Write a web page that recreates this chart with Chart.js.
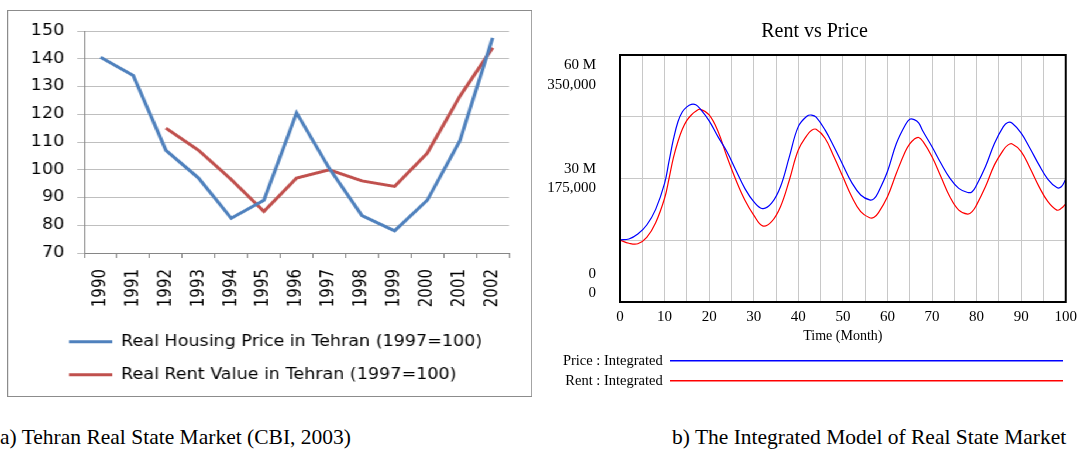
<!DOCTYPE html>
<html>
<head>
<meta charset="utf-8">
<script src="https://cdn.jsdelivr.net/npm/chart.js@4.4.1/dist/chart.umd.min.js"></script>
<style>
    html, body { margin: 0; padding: 0; background: #fff; }
    body { width: 1083px; height: 454px; position: relative; overflow: hidden; }
    /* the Excel panel in the source is stretched sideways a little */
    #leftBox { position: absolute; left: 7px; top: 10px; width: 449px; height: 387px; box-sizing: border-box;
               border: 1px solid #8c8c8c; transform: scaleX(1.17); transform-origin: 0 0; }
    #rightBox { position: absolute; left: 546px; top: 0; width: 537px; height: 400px; }
    .caption { position: absolute; top: 425px; font-family: "Liberation Serif", serif; font-size: 21.5px;
               color: #000; white-space: nowrap; line-height: 24px; }
</style>
</head>
<body>
<div id="leftBox"><canvas id="cbiChart"></canvas></div>
<div id="rightBox"><canvas id="modelChart"></canvas></div>
<div class="caption" style="left:0;">a) Tehran Real State Market (CBI, 2003)</div>
<div class="caption" style="left:672px;">b) The Integrated Model of Real State Market</div>

<script>
// ---------------------------------------------------------------------
// (a) CBI series, 1997 = 100
// ---------------------------------------------------------------------
const years = ["1990", "1991", "1992", "1993", "1994", "1995", "1996",
               "1997", "1998", "1999", "2000", "2001", "2002"];
const housingPrice = [140.5, 134, 107, 97, 82.5, 89, 120.5, 100.5, 83.5, 78, 89, 110.5, 147.5];
const rentValue = [null, null, 115, 107, 96.5, 85, 97, 100, 96, 94, 106, 126.5, 144];
const indexMin = 70, indexMax = 150, indexStep = 10;

// ---------------------------------------------------------------------
// (b) Integrated model run (price in millions, rent in rials)
// ---------------------------------------------------------------------
const months = [0, 2, 4, 6, 8, 10, 11, 12, 13, 14, 15, 16, 17, 18, 20, 22, 24, 26, 28, 30,
                32, 34, 36, 38, 40, 42, 43, 44, 46, 48, 50, 52, 54, 56, 57, 58, 60, 62, 64, 65,
                66, 67, 68, 70, 72, 74, 76, 78, 79, 80, 82, 84, 86, 87, 88, 90, 92, 94, 96, 98,
                99, 100];
const priceIntegrated = [15.1, 15.3, 16.5, 18.7, 22.5, 28.8, 34.2, 39.6, 43.8, 46.2, 47.4, 48.0, 47.9, 46.9, 44.0, 40.1, 36.5, 32.0, 27.6, 24.4,
                         22.7, 24.0, 28.0, 35.3, 42.6, 45.2, 45.4, 44.9, 41.8, 37.7, 33.3, 29.0, 26.0, 24.8, 25.1, 26.8, 31.7, 38.5, 43.0, 44.4,
                         44.3, 43.5, 41.4, 37.7, 33.7, 30.1, 27.6, 26.6, 26.8, 28.4, 32.9, 38.5, 42.6, 43.6, 43.4, 41.0, 37.3, 33.3, 29.8, 27.8,
                         28.0, 29.8];
const rentIntegrated = [87800, 83300, 82600, 91700, 112400, 147000, 175000, 204800, 227500, 245000, 257300, 265000, 270200, 273000, 265000, 241500, 205800, 172900, 144600, 123200,
                        107800, 113800, 135100, 172900, 215300, 236600, 243300, 244700, 232100, 205800, 177500, 149100, 128100, 119400, 120100, 126700, 149100, 182400, 213200, 224000,
                        230700, 233100, 227200, 205800, 177500, 149100, 130200, 124600, 128100, 137600, 163500, 194300, 215300, 222300, 224000, 213200, 189400, 163500, 142100, 130200,
                        132700, 139000];
const priceTicks = [0, 30, 60];
const priceTickLabels = ["0", "30 M", "60 M"];
const rentTicks = [0, 175000, 350000];
const rentTickLabels = ["0", "175,000", "350,000"];

const sansFont = { family: "DejaVu Sans", size: 15 };
const serif = "Liberation Serif";

// legend samples as plain filled bars (no outline)
function flatLegendLabels(chart) {
    return Chart.defaults.plugins.legend.labels.generateLabels(chart).map(function (l) {
        l.lineWidth = 0;
        return l;
    });
}

// Excel indents its legend further than the y labels; nudge the legend box after layout
const legendIndent = {
    id: "legendIndent",
    afterLayout(chart) {
        if (chart.legend) chart.legend.left = 34;
    }
};

new Chart(document.getElementById("cbiChart"), {
    type: "line",
    data: {
        labels: years,
        datasets: [
            { label: "Real Housing Price in Tehran (1997=100)", data: housingPrice,
              borderColor: "#4F81BD", backgroundColor: "#4F81BD", borderWidth: 3, pointRadius: 0, tension: 0 },
            { label: "Real Rent Value in Tehran (1997=100)", data: rentValue,
              borderColor: "#C0504D", backgroundColor: "#C0504D", borderWidth: 3, pointRadius: 0, tension: 0 }
        ]
    },
    plugins: [legendIndent],
    options: {
        responsive: true, maintainAspectRatio: false, animation: false,
        layout: { padding: { left: 14, right: 19, top: 18.5, bottom: 3.8 } },
        plugins: {
            tooltip: { enabled: false },
            legend: {
                position: "bottom", align: "start",
                labels: { boxWidth: 37, boxHeight: 3, padding: 18, color: "#000", font: sansFont,
                          generateLabels: flatLegendLabels }
            }
        },
        scales: {
            x: {
                offset: true,
                grid: { offset: true, drawOnChartArea: false, tickLength: 5, color: "#868686" },
                border: { color: "#868686" },
                ticks: { minRotation: 90, maxRotation: 90, padding: 11, color: "#000", font: sansFont },
                afterFit: function (s) { s.height = 63.2; }
            },
            y: {
                min: indexMin, max: indexMax,
                grid: { color: "#BFBFBF", tickLength: 6 },
                border: { color: "#868686" },
                ticks: { stepSize: indexStep, padding: 11, color: "#000", font: sansFont },
                afterFit: function (s) { s.width = 51; }
            }
        }
    }
});

// Vensim-style stacked axis labels + black frame round the plot
const vensimFrame = {
    id: "vensimFrame",
    afterDraw(chart) {
        const { ctx, chartArea } = chart;
        const rent = chart.scales.yRent, price = chart.scales.yPrice;
        ctx.save();
        ctx.font = "15px \"" + serif + "\"";
        ctx.fillStyle = "#000";
        ctx.textAlign = "right";
        ctx.textBaseline = "middle";
        const xRight = chartArea.left - 24;
        // labels are kept inside the plot's height, like the Vensim output
        const clamp = function (y) { return Math.min(Math.max(y, chartArea.top + 20), chartArea.bottom - 18.5); };
        rentTicks.forEach(function (v, i) {
            const yp = clamp(price.getPixelForValue(priceTicks[i]));
            const yr = clamp(rent.getPixelForValue(v));
            ctx.fillText(priceTickLabels[i], xRight, yp - 9.75);
            ctx.fillText(rentTickLabels[i], xRight, yr + 9.75);
        });
        ctx.lineWidth = 2;
        ctx.strokeStyle = "#000";
        ctx.strokeRect(chartArea.left, chartArea.top, chartArea.right - chartArea.left, chartArea.bottom - chartArea.top);
        ctx.restore();
    }
};

new Chart(document.getElementById("modelChart"), {
    type: "line",
    data: {
        datasets: [
            { label: "Price : Integrated", yAxisID: "yPrice",
              data: months.map(function (t, i) { return { x: t, y: priceIntegrated[i] }; }),
              borderColor: "#0000FF", backgroundColor: "#0000FF", borderWidth: 1.2, pointRadius: 0, tension: 0.4 },
            { label: "Rent : Integrated", yAxisID: "yRent",
              data: months.map(function (t, i) { return { x: t, y: rentIntegrated[i] }; }),
              borderColor: "#FF0000", backgroundColor: "#FF0000", borderWidth: 1.2, pointRadius: 0, tension: 0.4 }
        ]
    },
    plugins: [vensimFrame],
    options: {
        responsive: true, maintainAspectRatio: false, animation: false,
        // equal side padding keeps the title centred on the panel
        layout: { padding: { left: 14.5, right: 14.5, top: 0, bottom: 2 } },
        plugins: {
            tooltip: { enabled: false },
            title: { display: true, text: "Rent vs Price", color: "#000",
                     font: { family: serif, size: 20, weight: "normal" }, padding: { top: 20, bottom: 11 } },
            legend: {
                position: "bottom", align: "start", rtl: true,
                labels: { boxWidth: 393, boxHeight: 1.5, padding: 5.5, color: "#000",
                          font: { family: serif, size: 14.5, lineHeight: 1 }, generateLabels: flatLegendLabels }
            }
        },
        scales: {
            x: {
                type: "linear", min: 0, max: 100,
                grid: { color: "#C8C8C8", drawTicks: false },
                border: { color: "#000", width: 2 },
                ticks: { stepSize: 5, autoSkip: false, maxRotation: 0, padding: 6, color: "#000",
                         font: { family: serif, size: 15 },
                         callback: function (v) { return v % 10 === 0 ? v : ""; } },
                title: { display: true, text: "Time (Month)", color: "#000",
                         font: { family: serif, size: 14 }, padding: { top: 0, bottom: 3.6 } },
                afterFit: function (s) { s.height = 46; }
            },
            yRent: {
                position: "left", min: 0, max: 350000,
                grid: { color: "#C8C8C8", drawTicks: false },
                border: { color: "#000", width: 2 },
                ticks: { display: false, stepSize: 87500 },
                afterFit: function (s) { s.width = 59.5; }
            },
            yPrice: { position: "left", display: false, min: 0, max: 60 }
        }
    }
});
</script>
</body>
</html>
